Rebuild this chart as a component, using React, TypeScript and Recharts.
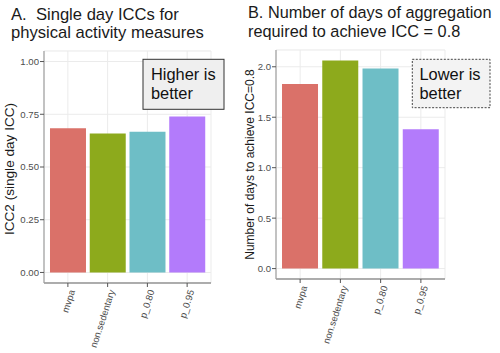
import React from 'react';
import { BarChart, Bar, XAxis, YAxis, CartesianGrid, Cell } from 'recharts';

const categories = ['mvpa', 'non.sedentary', 'p_0.80', 'p_0.95'];
const iccValues = [0.684, 0.659, 0.667, 0.739];
const daysValues = [1.83, 2.063, 1.984, 1.38];
const barColors = ['#DA7169', '#8DAA1C', '#6EBEC6', '#B37BFB'];
const iccTicks = [0, 0.25, 0.5, 0.75, 1];
const iccMinor = [0.125, 0.375, 0.625, 0.875];
const daysTicks = [0, 0.5, 1, 1.5, 2];
const daysMinor = [0.25, 0.75, 1.25, 1.75];

const iccData = categories.map((c, i) => ({ name: c, value: iccValues[i] }));
const daysData = categories.map((c, i) => ({ name: c, value: daysValues[i] }));

const iccDomain: [number, number] = [-0.05, 1.05];
const daysMax = Math.max(...daysValues);
const daysDomain: [number, number] = [-0.05 * daysMax, 1.05 * daysMax];

const AXIS_FONT = '"Liberation Sans", Arial, sans-serif';
const TITLE_FONT = '"Liberation Sans", Arial, sans-serif';

const XTick = (props: any) => {
  const { x, y, payload } = props;
  return (
    <g transform={`translate(${x + 4},${y + 3})`}>
      <text
        transform="rotate(-72)"
        textAnchor="end"
        dominantBaseline="central"
        fontSize={9.5}
        fill="#4d4d4d"
        fontFamily={AXIS_FONT}
      >
        {payload.value}
      </text>
    </g>
  );
};

type PanelProps = {
  data: { name: string; value: number }[];
  domain: [number, number];
  ticks: number[];
  minor: number[];
  digits: number;
  margin: { top: number; right: number; left: number; bottom: number };
  yWidth: number;
  xHeight: number;
  pad: number;
};

function Panel({ data, domain, ticks, minor, digits, margin, yWidth, xHeight, pad }: PanelProps) {
  return (
    <BarChart width={250} height={353} data={data} margin={margin} barCategoryGap="5%">
      <CartesianGrid stroke="#f3f3f3" strokeWidth={0.6} vertical={false} yAxisId="minor" xAxisId="top" />
      <CartesianGrid stroke="#ebebeb" strokeWidth={1} />
      <XAxis
        dataKey="name"
        type="category"
        height={xHeight}
        interval={0}
        padding={{ left: pad, right: pad }}
        tick={<XTick />}
        tickSize={4}
        tickMargin={0}
        tickLine={{ stroke: '#555' }}
        axisLine={{ stroke: '#666', strokeWidth: 1.2 }}
      />
      <XAxis
        xAxisId="top"
        orientation="top"
        dataKey="name"
        type="category"
        height={0}
        padding={{ left: pad, right: pad }}
        tick={false}
        tickLine={false}
        axisLine={{ stroke: '#a0a0a0', strokeWidth: 1.2 }}
      />
      <YAxis
        type="number"
        domain={domain}
        ticks={ticks}
        allowDataOverflow
        width={yWidth}
        tickSize={4}
        tickMargin={1}
        tickFormatter={(v: number) => v.toFixed(digits)}
        tick={{ fontSize: 9.6, fill: '#4d4d4d', fontFamily: AXIS_FONT }}
        tickLine={{ stroke: '#555' }}
        axisLine={{ stroke: '#a0a0a0', strokeWidth: 1.2 }}
      />
      <YAxis
        yAxisId="minor"
        orientation="right"
        type="number"
        domain={domain}
        ticks={minor}
        allowDataOverflow
        width={0}
        tick={false}
        tickLine={false}
        axisLine={{ stroke: '#a0a0a0', strokeWidth: 1.2 }}
      />
      <Bar dataKey="value" isAnimationActive={false}>
        {data.map((d, i) => (
          <Cell key={d.name} fill={barColors[i]} />
        ))}
      </Bar>
    </BarChart>
  );
}

export default function App() {
  return (
    <div style={{ position: 'absolute', left: 0, top: 0, width: 500, height: 353, background: '#fff', overflow: 'hidden' }}>
      <div style={{ position: 'absolute', left: 0, top: 0 }}>
        <Panel
          data={iccData}
          domain={iccDomain}
          ticks={iccTicks}
          minor={iccMinor}
          digits={2}
          margin={{ top: 51, right: 39, left: 0, bottom: 0 }}
          yWidth={44}
          xHeight={70}
          pad={4}
        />
      </div>
      <div style={{ position: 'absolute', left: 250, top: 0 }}>
        <Panel
          data={daysData}
          domain={daysDomain}
          ticks={daysTicks}
          minor={daysMinor}
          digits={1}
          margin={{ top: 50, right: 55, left: 0, bottom: 0 }}
          yWidth={26}
          xHeight={74}
          pad={4}
        />
      </div>
      <svg width={500} height={353} style={{ position: 'absolute', left: 0, top: 0, pointerEvents: 'none' }}>
        <text fontFamily={TITLE_FONT} fill="#1a1a1a" fontSize={16.6} style={{ whiteSpace: 'pre' }}>
          <tspan x={11} y={20}>{'A.  Single day ICCs for'}</tspan>
          <tspan x={11} y={38.3}>physical activity measures</tspan>
        </text>
        <text fontFamily={TITLE_FONT} fill="#1a1a1a" fontSize={16.3}>
          <tspan x={248} y={17.5}>B. Number of days of aggregation</tspan>
          <tspan x={248} y={36.7}>required to achieve ICC = 0.8</tspan>
        </text>
        <g fontFamily={AXIS_FONT} fill="#1a1a1a">
          <text transform="translate(9,169) rotate(-90)" textAnchor="middle" dominantBaseline="central" fontSize={13.6}>ICC2 (single day ICC)</text>
          <text transform="translate(250,164.5) rotate(-90)" textAnchor="middle" dominantBaseline="central" fontSize={12}>Number of days to achieve ICC=0.8</text>
        </g>
        <rect x={143} y={59.3} width={81} height={50} fill="#efefef" stroke="#333" strokeWidth={1} />
        <text fontFamily={TITLE_FONT} fill="#111" fontSize={16.4}>
          <tspan x={151} y={80}>Higher is</tspan>
          <tspan x={151} y={98.5}>better</tspan>
        </text>
        <rect x={412.3} y={59.3} width={77.7} height={48.4} fill="#f3f3f3" stroke="#444" strokeWidth={1} strokeDasharray="2 1.5" />
        <text fontFamily={TITLE_FONT} fill="#111" fontSize={16.4}>
          <tspan x={419.5} y={80}>Lower is</tspan>
          <tspan x={419.5} y={98.5}>better</tspan>
        </text>
      </svg>
    </div>
  );
}
